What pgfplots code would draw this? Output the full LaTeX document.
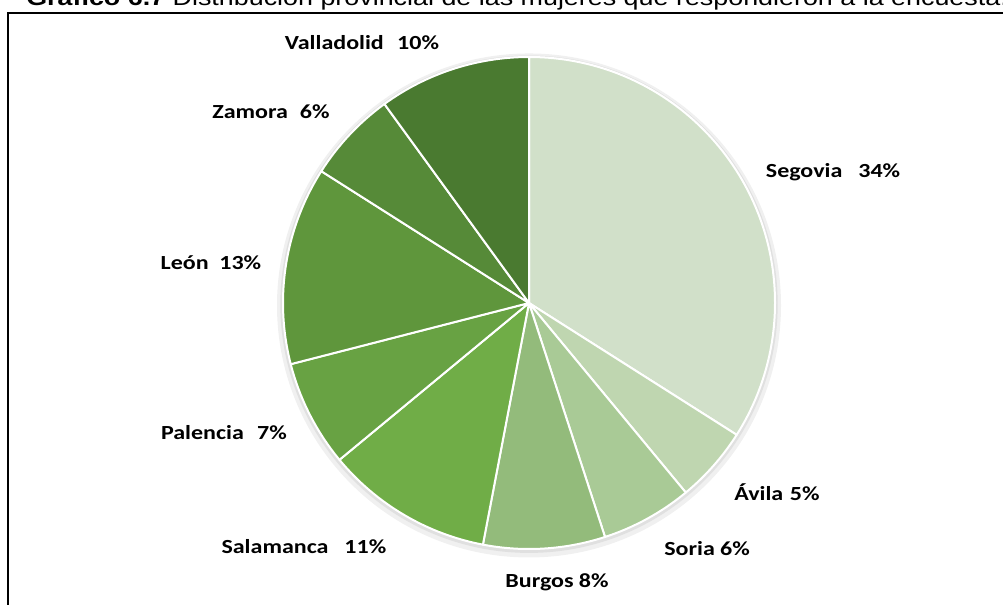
\documentclass[border=0pt]{standalone}
\usepackage{pgfplots}
\pgfplotsset{compat=1.18}
\usepackage{pgfplotstable}
\usepackage{fontspec}
\setmainfont{Liberation Sans}
\newfontfamily\lblfont{Carlito}[FakeStretch=1.2]
\newfontfamily\titlefont{Liberation Sans}[FakeStretch=1.2]
\definecolor{c1}{HTML}{D1E0C9}
\definecolor{c2}{HTML}{BFD6B0}
\definecolor{c3}{HTML}{A9CA96}
\definecolor{c4}{HTML}{93BB7B}
\definecolor{c5}{HTML}{70AD47}
\definecolor{c6}{HTML}{68A243}
\definecolor{c7}{HTML}{5F963C}
\definecolor{c8}{HTML}{568A38}
\definecolor{c9}{HTML}{4A7A30}
\pgfplotstableread{
name value color lx ly gap
Segovia 34 c1 1.236 0.533 12pt
Ávila 5 c2 1.008 -0.768 5pt
Soria 6 c3 0.724 -1.000 4pt
Burgos 8 c4 0.114 -1.134 4pt
Salamanca 11 c5 -0.915 -0.992 12pt
Palencia 7 c6 -1.240 -0.528 10pt
León 13 c7 -1.293 0.163 8pt
Zamora 6 c8 -1.049 0.776 9pt
Valladolid 10 c9 -0.679 1.057 10pt
}\piedata
\begin{document}
\begin{tikzpicture}[x=0.75pt,y=-0.75pt]
\useasboundingbox (0,0) rectangle (1003,604);
\clip (0,0) rectangle (1003,604);
\node[anchor=base west, inner sep=0pt, font=\titlefont\fontsize{16.8}{18}\selectfont] at (26,5.5)
  {\textbf{Gráfico 6.7} Distribución provincial de las mujeres que respondieron a la encuesta.};
\draw[line width=1.5pt] (1010,13) -- (8,13) -- (8,620);
\coordinate (pc) at (529,303);
\begin{axis}[at={(pc)}, anchor=origin, x=184.5pt, y=184.5pt,
  xmin=-1.5, xmax=1.5, ymin=-1.3, ymax=1.3, hide axis, clip=false]
\fill[black!6] (axis cs:0,-0.01) circle[radius=189pt];
\fill[black!12] (axis cs:0,-0.005) circle[radius=186.5pt];
\def\start{90}
\pgfplotsforeachungrouped \i in {0,...,8}{
  \pgfplotstablegetelem{\i}{value}\of\piedata \let\v\pgfplotsretval
  \pgfplotstablegetelem{\i}{color}\of\piedata \let\c\pgfplotsretval
  \pgfmathsetmacro\stop{\start-3.6*\v}
  \edef\temp{\noexpand\fill[\c, draw=white, line width=1.5pt, line join=round] (axis cs:0,0) -- (axis cs:{cos(\start)},{sin(\start)}) arc[start angle=\start, end angle=\stop, radius=184.5pt] -- cycle;}
  \temp
  \global\let\start\stop
}
\pgfplotsforeachungrouped \i in {0,...,8}{
  \pgfplotstablegetelem{\i}{value}\of\piedata \let\v\pgfplotsretval
  \pgfplotstablegetelem{\i}{name}\of\piedata \let\n\pgfplotsretval
  \pgfplotstablegetelem{\i}{lx}\of\piedata \let\lx\pgfplotsretval
  \pgfplotstablegetelem{\i}{ly}\of\piedata \let\ly\pgfplotsretval
  \pgfplotstablegetelem{\i}{gap}\of\piedata \let\g\pgfplotsretval
  \edef\temp{\noexpand\node[inner sep=0pt, font=\noexpand\lblfont\noexpand\bfseries\noexpand\fontsize{15}{17}\noexpand\selectfont] at (axis cs:\lx,\ly) {\n\noexpand\hspace{\g}\v\%};}
  \temp
}
\end{axis}
\end{tikzpicture}
\end{document}
